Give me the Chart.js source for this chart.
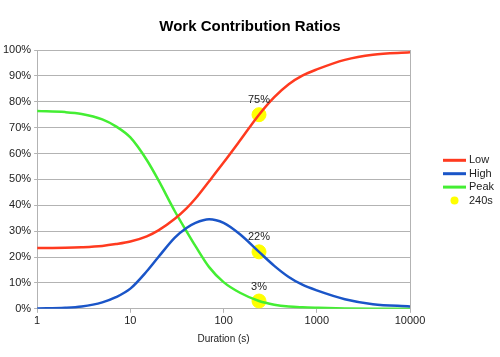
<!DOCTYPE html>
<html>
<head>
<meta charset="utf-8">
<script src="https://cdn.jsdelivr.net/npm/chart.js@4/dist/chart.umd.min.js"></script>
<style>
html,body{margin:0;padding:0;background:#fff;}
#wrap{width:500px;height:357px;}
</style>
</head>
<body>
<div id="wrap"><canvas id="c" width="500" height="357"></canvas></div>
<script>
const durations = [1, 2, 3, 5, 7, 10, 15, 20, 30, 40, 50, 70, 100, 150, 240, 350, 500, 700, 1000, 2000, 4000, 10000];
const lowPct  = [23.5, 23.6, 23.8, 24.3, 25.0, 26.0, 28.0, 30.3, 34.8, 38.8, 42.6, 49.3, 56.5, 65.0, 75.0, 81.8, 86.8, 90.1, 92.5, 96.2, 98.2, 99.1];
const highPct = [0.1, 0.4, 0.9, 2.5, 4.5, 7.8, 14.5, 20.0, 27.5, 31.2, 33.2, 34.6, 33.2, 28.8, 22.0, 16.6, 12.3, 9.3, 7.1, 3.7, 1.8, 0.9];
const peakPct = [76.4, 76.0, 75.3, 73.2, 70.5, 66.2, 57.5, 49.7, 37.7, 30.0, 24.2, 16.1, 10.3, 6.2, 3.0, 1.6, 0.9, 0.6, 0.4, 0.1, 0.0, 0.0];
const markerDuration = [240, 240, 240];
const markerPct = [75, 22, 3];
const xTicks = [1, 10, 100, 1000, 10000];
const seriesNames = ['Low', 'High', 'Peak', '240s'];

const toXY = (xs, ys) => xs.map((x, i) => ({x: x, y: ys[i]}));
const FONT = '"Liberation Sans", Arial, sans-serif';

const markerLabels = {
  id: 'markerLabels',
  afterDatasetsDraw(chart) {
    const meta = chart.getDatasetMeta(3);
    const ctx = chart.ctx;
    ctx.save();
    ctx.font = '11px ' + FONT;
    ctx.fillStyle = '#222';
    ctx.textAlign = 'center';
    ctx.textBaseline = 'bottom';
    meta.data.forEach((pt, i) => {
      ctx.fillText(markerPct[i] + '%', pt.x, pt.y - 9);
    });
    ctx.restore();
  }
};

const sideLegend = {
  id: 'sideLegend',
  afterDraw(chart) {
    const ctx = chart.ctx;
    const area = chart.chartArea;
    const x0 = area.right + 33;
    const lineW = 23;
    const step = 13.4;
    const y0 = (area.top + area.bottom) / 2 - step * 1.5 + 1;
    ctx.save();
    ctx.font = '11px ' + FONT;
    ctx.textBaseline = 'middle';
    ctx.textAlign = 'left';
    chart.data.datasets.forEach((ds, i) => {
      const y = y0 + i * step;
      if (i < 3) {
        ctx.strokeStyle = ds.borderColor;
        ctx.lineWidth = 3;
        ctx.beginPath();
        ctx.moveTo(x0, y);
        ctx.lineTo(x0 + lineW, y);
        ctx.stroke();
      } else {
        ctx.fillStyle = ds.backgroundColor;
        ctx.beginPath();
        ctx.arc(x0 + lineW / 2, y, 4, 0, Math.PI * 2);
        ctx.fill();
      }
      ctx.fillStyle = '#222';
      ctx.fillText(ds.label, x0 + lineW + 3, y);
    });
    ctx.restore();
  }
};

new Chart(document.getElementById('c'), {
  type: 'scatter',
  data: {
    datasets: [
      {label: seriesNames[0], type: 'line', data: toXY(durations, lowPct), borderColor: '#ff3a1f', backgroundColor: '#ff3a1f', borderWidth: 2.5, pointRadius: 0, cubicInterpolationMode: 'monotone', fill: false, order: 1},
      {label: seriesNames[1], type: 'line', data: toXY(durations, highPct), borderColor: '#1a55c8', backgroundColor: '#1a55c8', borderWidth: 2.5, pointRadius: 0, cubicInterpolationMode: 'monotone', fill: false, order: 1},
      {label: seriesNames[2], type: 'line', data: toXY(durations, peakPct), borderColor: '#44ee33', backgroundColor: '#44ee33', borderWidth: 2.5, pointRadius: 0, cubicInterpolationMode: 'monotone', fill: false, order: 1},
      {label: seriesNames[3], data: toXY(markerDuration, markerPct), backgroundColor: '#ffff00', borderColor: '#ffff00', pointRadius: 7, pointHoverRadius: 7, order: 5}
    ]
  },
  options: {
    responsive: false,
    animation: false,
    devicePixelRatio: 1,
    layout: {padding: {left: 0, right: 0, top: 0, bottom: 12}},
    plugins: {
      title: {display: true, text: 'Work Contribution Ratios', color: '#000', font: {family: FONT, size: 15, weight: 'bold'}, padding: {top: 18, bottom: 14}},
      legend: {display: false},
      tooltip: {enabled: false}
    },
    scales: {
      x: {
        type: 'logarithmic',
        min: 1, max: 10000,
        afterBuildTicks(axis) { axis.ticks = xTicks.map(v => ({value: v})); },
        ticks: {color: '#222', font: {family: FONT, size: 11}, maxRotation: 0, autoSkip: false, callback: v => String(v), padding: 2},
        grid: {
          color: c => (c.tick && (c.tick.value === 1 || c.tick.value === 10000)) ? '#b3b3b3' : 'rgba(0,0,0,0)',
          tickColor: '#b3b3b3', tickLength: 4, lineWidth: 1
        },
        border: {color: '#b3b3b3'},
        title: {display: true, text: 'Duration (s)', color: '#222', font: {family: FONT, size: 10}, padding: {top: 3, bottom: 0}}
      },
      y: {
        min: 0, max: 100,
        ticks: {stepSize: 10, color: '#222', font: {family: FONT, size: 11}, callback: v => v + '%', padding: 3},
        grid: {color: '#b3b3b3', tickColor: '#b3b3b3', tickLength: 3},
        border: {color: '#b3b3b3'}
      },
      ySpace: {
        position: 'right',
        min: 0, max: 100,
        grid: {display: false, drawOnChartArea: false},
        ticks: {display: false},
        border: {display: false},
        afterFit(axis) { axis.width = 90; }
      }
    }
  },
  plugins: [markerLabels, sideLegend]
});
</script>
</body>
</html>
